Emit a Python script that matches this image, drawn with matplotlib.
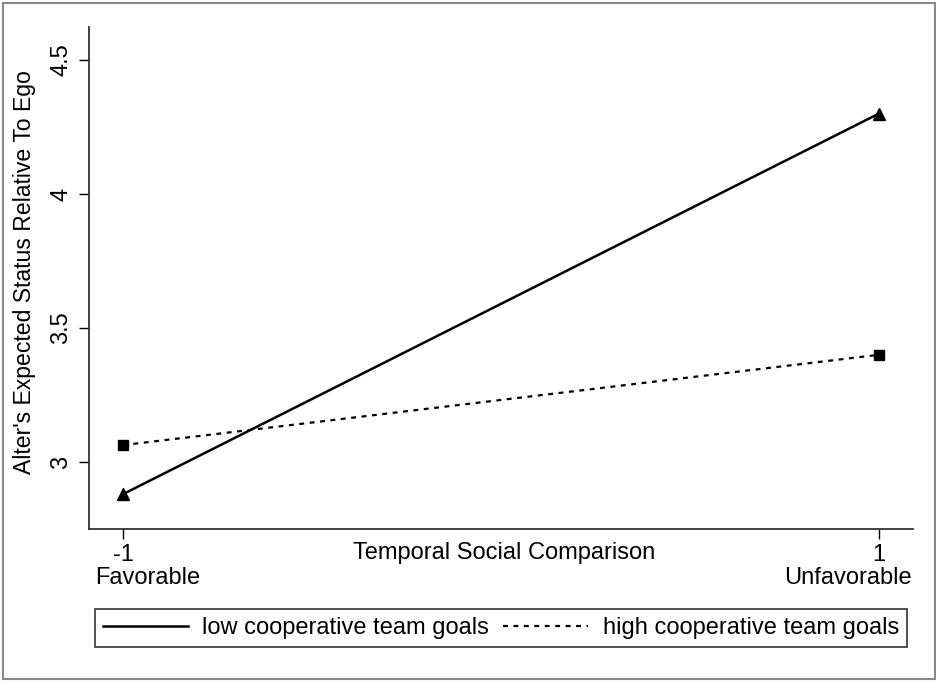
import matplotlib
matplotlib.use("Agg")
import matplotlib.pyplot as plt
from matplotlib.patches import Rectangle

# interaction means at the two levels of temporal comparison
x_levels = [-1, 1]
low_coop = [2.88, 4.30]
high_coop = [3.063, 3.40]
y_ticks = [3, 3.5, 4, 4.5]
y_tick_labels = ['3', '3.5', '4', '4.5']
x_tick_labels = ['-1', '1']
x_end_labels = ['Favorable', 'Unfavorable']

plt.rcParams['font.family'] = ['Liberation Sans', 'DejaVu Sans']

fig = plt.figure(figsize=(9.37, 6.83), dpi=100, facecolor='white')
ax = fig.add_axes([89 / 937, 1 - 529 / 683, (913 - 89) / 937, (529 - 27) / 683])

ax.plot(x_levels, low_coop, color='black', linestyle='-', linewidth=1.8,
        marker='^', markersize=8, label='low cooperative team goals')
ax.plot(x_levels, high_coop, color='black', linestyle=(0, (2.2, 2.5)), linewidth=1.6,
        marker='s', markersize=7, label='high cooperative team goals')

ax.set_xlim(-1.09, 1.09)
ax.set_ylim(2.75, 4.623)

ax.set_yticks(y_ticks)
ax.set_yticklabels(y_tick_labels, rotation=90, va='center', fontsize=17)
ax.set_xticks(x_levels)
ax.set_xticklabels(x_tick_labels, fontsize=17)
ax.tick_params(axis='both', length=7, width=1, color='black')
ax.tick_params(axis='y', pad=5)
ax.tick_params(axis='x', pad=4)

for side in ['top', 'right']:
    ax.spines[side].set_visible(False)
for side in ['left', 'bottom']:
    ax.spines[side].set_color('#333333')
    ax.spines[side].set_linewidth(1.3)

ax.set_ylabel("Alter's Expected Status Relative To Ego", fontsize=16.6)
ax.yaxis.set_label_coords(-0.064, 0.512)
fig.text(504 / 937, 1 - 553 / 683, 'Temporal Social Comparison', fontsize=17,
         ha='center', va='center')

# end-point descriptions under the tick values
fig.text(95 / 937, 1 - 578 / 683, x_end_labels[0], fontsize=17, ha='left', va='center')
fig.text(912 / 937, 1 - 578 / 683, x_end_labels[1], fontsize=17, ha='right', va='center')

leg = fig.legend(loc='center', bbox_to_anchor=(501 / 937, 1 - 628 / 683), ncol=2,
                 fontsize=17, frameon=True, fancybox=False, edgecolor='black',
                 handlelength=3.6, handletextpad=0.6, columnspacing=0.6,
                 borderpad=0.35)
leg.get_frame().set_linewidth(1.2)
for h in leg.legend_handles:
    h.set_marker('')

# thin gray frame around the whole graph
fig.patches.append(Rectangle((3 / 937, 4 / 683), 932 / 937, 676 / 683,
                             transform=fig.transFigure, fill=False,
                             edgecolor='#888888', linewidth=1.5))

fig.savefig('out.png', dpi=100, facecolor='white')
